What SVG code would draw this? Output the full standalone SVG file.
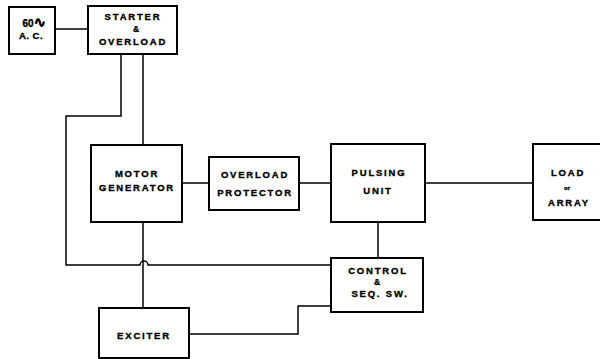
<svg xmlns="http://www.w3.org/2000/svg" width="600" height="359" viewBox="0 0 600 359">
<style>
rect{fill:#fff;stroke:#000;stroke-width:2}
.c path{fill:none;stroke:#000;stroke-width:1.5}
text{font-family:"Liberation Sans",Arial,sans-serif;font-weight:bold;font-size:9.5px;letter-spacing:1.8px;text-anchor:middle;fill:#000;stroke:#000;stroke-width:0.35}
.s{font-size:8.5px;letter-spacing:0}
.o{font-size:6px;letter-spacing:0}
.t{font-size:14px;letter-spacing:0}
</style>
<rect x="0" y="0" width="600" height="359" style="stroke:none"/>
<g class="c">
<path d="M55 29H88"/>
<path d="M121 54V116H66V265H140A4 4 0 0 1 148 265H331"/>
<path d="M143 54V145"/>
<path d="M182 183H209"/>
<path d="M299 183H331"/>
<path d="M425 183H533"/>
<path d="M378 222V258"/>
<path d="M143 222V308"/>
<path d="M189 334H298V306H331"/>
</g>
<g id="ac"><rect x="9" y="7" width="46" height="47"/><text x="34" y="27" style="letter-spacing:0;font-size:10px">60<tspan class="t">∿</tspan></text><text x="31" y="39" style="letter-spacing:0.5px">A. C.</text></g>
<g id="starter"><rect x="88" y="6" width="89" height="48"/><text x="133" y="20">STARTER</text><text x="136" y="32" class="s">&amp;</text><text x="133" y="45">OVERLOAD</text></g>
<g id="mg"><rect x="91" y="145" width="91" height="77"/><text x="137" y="177">MOTOR</text><text x="137" y="191">GENERATOR</text></g>
<g id="op"><rect x="209" y="157" width="90" height="53"/><text x="255" y="178">OVERLOAD</text><text x="255" y="196">PROTECTOR</text></g>
<g id="pu"><rect x="331" y="144" width="94" height="78"/><text x="379" y="176">PULSING</text><text x="378" y="194">UNIT</text></g>
<g id="load"><rect x="533" y="144" width="70" height="76"/><text x="568" y="176">LOAD</text><text x="567" y="190" class="o">or</text><text x="569" y="206">ARRAY</text></g>
<g id="control"><rect x="331" y="258" width="92" height="54"/><text x="378" y="274">CONTROL</text><text x="377" y="285" class="s">&amp;</text><text x="380" y="297">SEQ. SW.</text></g>
<g id="exciter"><rect x="99" y="308" width="90" height="50"/><text x="144" y="339">EXCITER</text></g>
</svg>
